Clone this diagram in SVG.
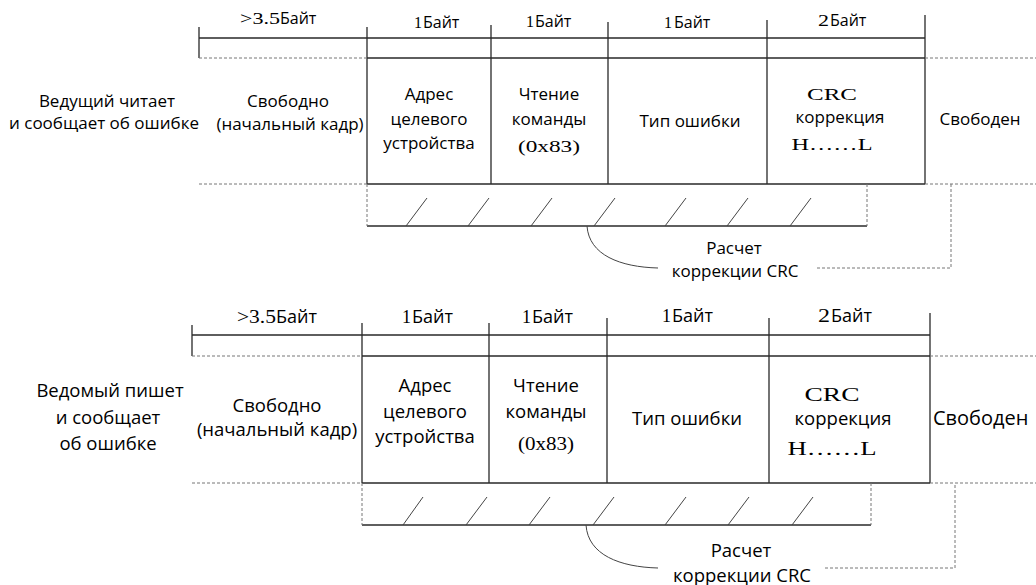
<svg xmlns="http://www.w3.org/2000/svg" width="1036" height="585" viewBox="0 0 1036 585">
<style>
.s{fill:none;stroke:#2a2a2a;stroke-width:1.3}
.d{fill:none;stroke:#777;stroke-width:1;stroke-dasharray:3,2}
.h{fill:none;stroke:#444;stroke-width:1}
text{fill:#000;font-family:"Open Sans","Noto Sans",sans-serif}
.t1{font-size:17px;text-anchor:middle}
.t2{font-size:18.5px;text-anchor:middle}
.sf{font-family:"Liberation Serif","Times New Roman",serif}
.b1{font-size:16px}
.b2{font-size:18px}
</style>
<rect width="1036" height="585" fill="#fff"/>
<g id="connectors">
<path class="s" d="M199,38H925M367,58H925M367,184H925M199,27V58M367,27V184M491,25V184M608,22V184M767,20V184M925,15V184"/>
<path class="d" d="M199,58H367M925,58H1036M199,184H367M925,184H1036"/>
<path class="s" d="M367,226H867"/>
<path class="d" d="M367,184V226M867,184V226"/>
<path class="h" d="M406,226L427,198M468,226L489,198M531,226L552,198M594,226L615,198M665,226L686,198M727,226L748,198M790,226L811,198"/>
<path class="h" d="M587,226C589,255 620,267 658,268"/>
<path class="d" d="M817,268H951V184"/>
<path class="s" d="M192,335H930M362,356H930M362,483H930M192,325V356M362,323V483M489,323V483M607,318V483M769,318V483M930,313V483"/>
<path class="d" d="M192,356H362M930,356H1036M192,483H362M930,483H1036"/>
<path class="s" d="M362,525H871"/>
<path class="d" d="M362,483V525M871,483V525"/>
<path class="h" d="M403,525L423,497M466,525L487,497M529,525L550,497M593,525L614,497M665,525L686,497M728,525L749,497M792,525L813,497"/>
<path class="h" d="M586,525C588,555 620,567 658,568"/>
<path class="d" d="M825,568H955V483"/>
</g>
<g id="top-headers">
<text class="sf b1" x="240" y="24" textLength="40" lengthAdjust="spacingAndGlyphs">&gt;3.5</text><text class="b1" x="280" y="24">Байт</text>
<text class="sf b1" x="414" y="28">1</text><text class="b1" x="423" y="28">Байт</text>
<text class="sf b1" x="526" y="27">1</text><text class="b1" x="535" y="27">Байт</text>
<text class="sf b1" x="664" y="28">1</text><text class="b1" x="674" y="28">Байт</text>
<text class="sf b1" x="818" y="26" textLength="11" lengthAdjust="spacingAndGlyphs">2</text><text class="b1" x="830" y="26">Байт</text>
</g>
<g id="top-label"><text class="t1" x="107" y="107">Ведущий читает</text><text class="t1" x="104" y="129">и сообщает об ошибке</text></g>
<g id="top-idle"><text class="t1" x="288" y="107">Свободно</text><text class="t1" x="290" y="130">(начальный кадр)</text></g>
<g id="top-addr"><text class="t1" x="429" y="100">Адрес</text><text class="t1" x="429" y="125">целевого</text><text class="t1" x="429" y="149">устройства</text></g>
<g id="top-cmd"><text class="t1" x="549" y="100">Чтение</text><text class="t1" x="549" y="125">команды</text><text class="t1 sf" x="549" y="152" textLength="62" lengthAdjust="spacingAndGlyphs">(0x83)</text></g>
<g id="top-err"><text class="t1" x="690" y="127">Тип ошибки</text></g>
<g id="top-crc"><text class="t1 sf" x="832" y="100" textLength="50" lengthAdjust="spacingAndGlyphs">CRC</text><text class="t1" x="840" y="123">коррекция</text><text class="t1 sf" x="832" y="150" textLength="81" lengthAdjust="spacingAndGlyphs">H……L</text></g>
<g id="top-free"><text class="t1" x="980" y="125">Свободен</text></g>
<g id="top-calc"><text class="t1" x="734" y="254">Расчет</text><text class="t1" x="735" y="277">коррекции CRC</text></g>
<g id="bottom-headers">
<text class="sf b2" x="237" y="323" textLength="39" lengthAdjust="spacingAndGlyphs">&gt;3.5</text><text class="b2" x="276" y="323">Байт</text>
<text class="sf b2" x="402" y="323">1</text><text class="b2" x="412" y="323">Байт</text>
<text class="sf b2" x="522" y="323">1</text><text class="b2" x="532" y="323">Байт</text>
<text class="sf b2" x="662" y="322">1</text><text class="b2" x="672" y="322">Байт</text>
<text class="sf b2" x="818" y="322" textLength="12" lengthAdjust="spacingAndGlyphs">2</text><text class="b2" x="831" y="322">Байт</text>
</g>
<g id="bottom-label"><text class="t2" x="110" y="397">Ведомый пишет</text><text class="t2" x="108" y="424">и сообщает</text><text class="t2" x="108" y="450">об ошибке</text></g>
<g id="bottom-idle"><text class="t2" x="277" y="412">Свободно</text><text class="t2" x="277" y="436">(начальный кадр)</text></g>
<g id="bottom-addr"><text class="t2" x="425" y="392">Адрес</text><text class="t2" x="425" y="418">целевого</text><text class="t2" x="425" y="443">устройства</text></g>
<g id="bottom-cmd"><text class="t2" x="546" y="392">Чтение</text><text class="t2" x="546" y="418">команды</text><text class="t2 sf" x="546" y="450" textLength="56" lengthAdjust="spacingAndGlyphs">(0x83)</text></g>
<g id="bottom-err"><text class="t2" x="687" y="425">Тип ошибки</text></g>
<g id="bottom-crc"><text class="t2 sf" x="832" y="401" textLength="55" lengthAdjust="spacingAndGlyphs">CRC</text><text class="t2" x="843" y="425">коррекция</text><text class="t2 sf" x="832" y="455" textLength="89" lengthAdjust="spacingAndGlyphs">H……L</text></g>
<g id="bottom-free"><text x="933" y="425" style="font-size:20px">Свободен</text></g>
<g id="bottom-calc"><text class="t2" x="741" y="557">Расчет</text><text class="t2" x="742" y="582">коррекции CRC</text></g>
</svg>
